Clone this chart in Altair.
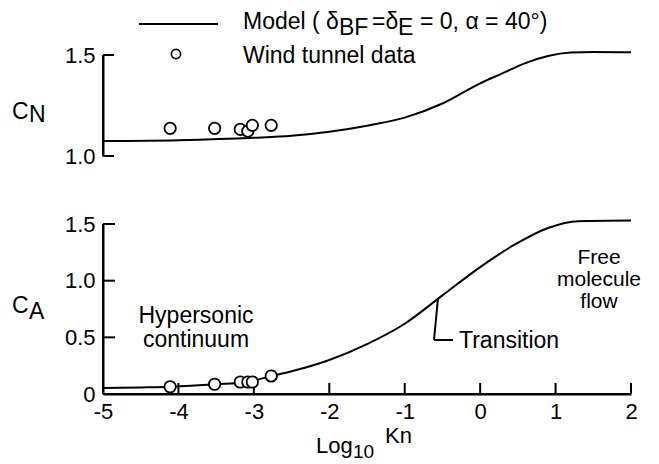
import altair as alt
import pandas as pd

# ---------------- data ----------------
kn_model_n = [-5.0, -4.0, -3.0, -2.5, -2.0, -1.5, -1.0, -0.5, 0.0, 0.3, 0.6, 0.9, 1.2, 1.5, 2.0]
cn_model = [1.074, 1.078, 1.09, 1.10, 1.12, 1.15, 1.19, 1.26, 1.36, 1.41, 1.46, 1.495, 1.512, 1.515, 1.513]

kn_model_a = [-5.0, -4.5, -4.1, -3.5, -3.1, -2.76, -2.5, -2.0, -1.5, -1.0, -0.5, 0.0, 0.45, 0.9, 1.3, 2.0]
ca_model = [0.053, 0.058, 0.064, 0.086, 0.106, 0.159, 0.20, 0.30, 0.44, 0.62, 0.87, 1.12, 1.315, 1.465, 1.525, 1.53]

kn_wind = [-4.11, -3.52, -3.18, -3.08, -3.02, -2.77]
cn_wind = [1.137, 1.137, 1.132, 1.123, 1.152, 1.152]
ca_wind = [0.064, 0.086, 0.106, 0.106, 0.106, 0.159]

x_ticks = [-5, -4, -3, -2, -1, 0, 1, 2]
cn_ticks = [1.0, 1.5]
ca_ticks = [0.0, 0.5, 1.0, 1.5]

# ---------------- layout ----------------
FONT = "Liberation Sans"
W = 528
HN = 101
HA = 170
X0, NTOP, ATOP = 102, 54, 223

xs = alt.Scale(domain=[-5, 2], nice=False, zero=False)
ysn = alt.Scale(domain=[1.0, 1.5], nice=False, zero=False)
ysa = alt.Scale(domain=[0.0, 1.5], nice=False, zero=False)

axis_common = dict(
    ticks=False, grid=False, domainColor="black", domainWidth=2, labelFont=FONT,
    labelFontSize=22, labelColor="black", title=None, labelFlush=False, labelOverlap=False,
)
ax_yn = alt.Axis(values=cn_ticks, labelExpr="format(datum.value, '.1f')", labelPadding=8, **axis_common)
ax_ya = alt.Axis(values=ca_ticks, labelExpr="datum.value == 0 ? '0' : format(datum.value, '.1f')",
                 labelPadding=8, **axis_common)
ax_xa = alt.Axis(values=x_ticks, labelExpr="datum.value + ''", labelPadding=7, **axis_common)


def px_x(px):
    return -5 + (px - X0) * 7.0 / W


def py_n(py):
    return 1.5 - (py - NTOP) * 0.5 / HN


def py_a(py):
    return 1.5 - (py - ATOP) * 1.5 / HA


one = pd.DataFrame({"a": [0]})


class Panel:
    def __init__(self, conv, yscale, xaxis, yaxis):
        self.conv, self.yscale, self.xaxis, self.yaxis = conv, yscale, xaxis, yaxis

    def X(self, field):
        return alt.X(field, type="quantitative", scale=xs, axis=self.xaxis)

    def Y(self, field):
        return alt.Y(field, type="quantitative", scale=self.yscale, axis=self.yaxis)

    def XD(self, px):
        return alt.XDatum(px_x(px), type="quantitative", scale=xs, axis=self.xaxis)

    def YD(self, py):
        return alt.YDatum(self.conv(py), type="quantitative", scale=self.yscale, axis=self.yaxis)

    def text(self, s, px, py, size=23, align="left"):
        return alt.Chart(one).mark_text(
            text=s, font=FONT, fontSize=size, align=align, baseline="alphabetic", color="black"
        ).encode(x=self.XD(px), y=self.YD(py))

    def seg(self, p1, p2):
        return alt.Chart(one).mark_rule(color="black", strokeWidth=2).encode(
            x=self.XD(p1[0]), x2=alt.X2Datum(px_x(p2[0])),
            y=self.YD(p1[1]), y2=alt.Y2Datum(self.conv(p2[1])),
        )

    def yline(self, lo, hi):
        # vertical axis line at the left edge, spanning the tick range
        return alt.Chart(one).mark_rule(color="black", strokeWidth=2).encode(
            x=alt.value(0),
            y=alt.YDatum(lo, type="quantitative", scale=self.yscale, axis=self.yaxis),
            y2=alt.Y2Datum(hi),
        )


def circles(df, P, size=130, sw=1.8):
    return alt.Chart(df).mark_point(shape="circle", filled=True, fill="white", stroke="black",
                                    strokeWidth=sw, size=size, opacity=1).encode(
        x=P.X("kn"), y=P.Y("c"))


# ---------------- top panel: C_N ----------------
PN = Panel(py_n, ysn, None, ax_yn)
df_n = pd.DataFrame({"kn": kn_model_n, "c": cn_model})
df_wn = pd.DataFrame({"kn": kn_wind, "c": cn_wind})
df_tn = pd.DataFrame({"v": cn_ticks})

line_n = alt.Chart(df_n).mark_line(color="black", strokeWidth=2, interpolate="monotone", clip=False).encode(
    x=PN.X("kn"), y=PN.Y("c"))
pts_n = circles(df_wn, PN)
ticks_n = alt.Chart(df_tn).mark_rule(color="black", strokeWidth=2).encode(
    y=PN.Y("v"), x=alt.value(0), x2=alt.value(11))

legend_pt = alt.Chart(one).mark_point(shape="circle", filled=True, fill="white", stroke="black",
                                       strokeWidth=1.6, size=85, opacity=1).encode(
    x=PN.XD(175), y=PN.YD(53))

top = alt.layer(
    line_n, PN.yline(cn_ticks[0], cn_ticks[-1]), ticks_n, pts_n,
    PN.seg((138, 23), (217, 23)), legend_pt,
    PN.text("Model ( δ", 242, 28),
    PN.text("BF", 338, 34),
    PN.text("=δ", 371, 28),
    PN.text("E", 397, 34),
    PN.text("= 0, α = 40°)", 419, 28),
    PN.text("Wind tunnel data", 242, 62),
    PN.text("C", 11, 118),
    PN.text("N", 28, 121),
).properties(width=W, height=HN)

# ---------------- bottom panel: C_A ----------------
PA = Panel(py_a, ysa, ax_xa, ax_ya)
df_a = pd.DataFrame({"kn": kn_model_a, "c": ca_model})
df_wa = pd.DataFrame({"kn": kn_wind, "c": ca_wind})
df_ta = pd.DataFrame({"v": ca_ticks})
df_tx = pd.DataFrame({"v": x_ticks})

line_a = alt.Chart(df_a).mark_line(color="black", strokeWidth=2, interpolate="monotone", clip=False).encode(
    x=PA.X("kn"), y=PA.Y("c"))
pts_a = circles(df_wa, PA)
ticks_a = alt.Chart(df_ta).mark_rule(color="black", strokeWidth=2).encode(
    y=PA.Y("v"), x=alt.value(0), x2=alt.value(12))
ticks_x = alt.Chart(df_tx).mark_rule(color="black", strokeWidth=2).encode(
    x=PA.X("v"), y=alt.value(HA), y2=alt.value(HA - 11))
xline = alt.Chart(one).mark_rule(color="black", strokeWidth=2).encode(
    x=alt.XDatum(x_ticks[0], type="quantitative", scale=xs, axis=ax_xa),
    x2=alt.X2Datum(x_ticks[-1]), y=alt.value(HA))

bottom = alt.layer(
    line_a, PA.yline(ca_ticks[0], ca_ticks[-1]), xline, ticks_a, ticks_x, pts_a,
    PA.seg((437, 297), (433, 339)),
    PA.seg((433, 339), (452, 339)),
    PA.text("Transition", 458, 347),
    PA.text("Hypersonic", 195, 322, align="center"),
    PA.text("continuum", 195, 346, align="center"),
    PA.text("Free", 598, 263, size=21, align="center"),
    PA.text("molecule", 598, 285, size=21, align="center"),
    PA.text("flow", 598, 307, size=21, align="center"),
    PA.text("C", 11, 312),
    PA.text("A", 28, 318),
    PA.text("Log", 315, 452, size=22),
    PA.text("10", 352, 457, size=19),
    PA.text("Kn", 384, 442, size=22),
).properties(width=W, height=HA)

chart = alt.vconcat(top, bottom, spacing=46).resolve_scale(
    x="independent", y="independent"
).configure_view(stroke=None).properties(
    padding={"left": 11, "top": 10, "right": 5, "bottom": 5}
)

chart.save("out.html", embed_options={"renderer": "svg", "actions": False})
